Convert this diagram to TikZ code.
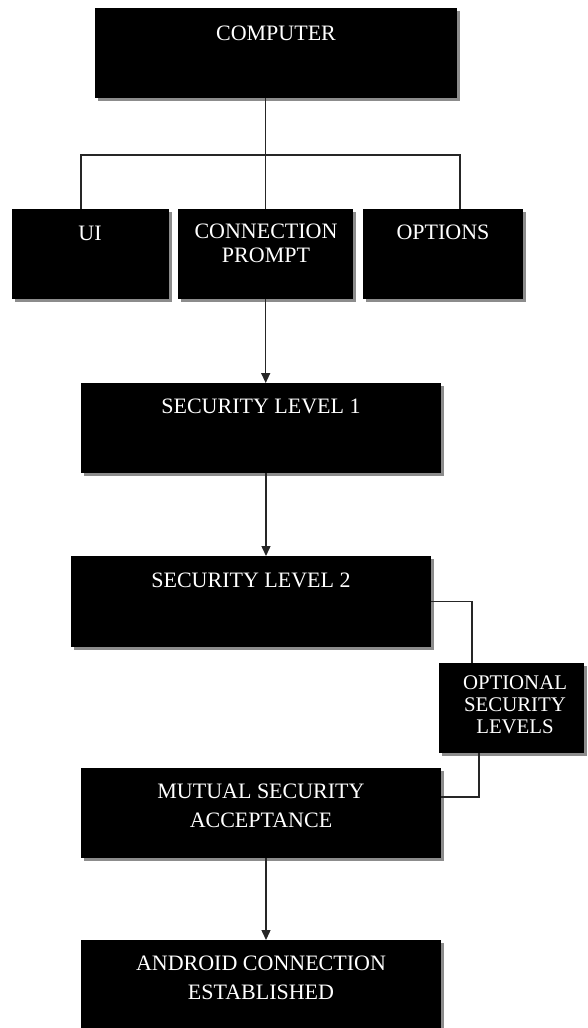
\documentclass[tikz,border=0pt]{standalone}
\usepackage{fontspec}
\setmainfont{Liberation Serif}
\usetikzlibrary{shadows,arrows.meta}
\begin{document}
\begin{tikzpicture}[x=1pt,y=-1pt,
  boxnode/.style={fill=black, inner sep=0pt, anchor=north west,
    drop shadow={shadow xshift=3pt, shadow yshift=-3pt, fill=black!45, opacity=1}},
  txt/.style={text=white, font=\fontsize{22}{24}\selectfont, align=center, inner sep=0pt},
  line/.style={draw=black!85, line width=1.4pt},
  arr/.style={line, -{Triangle[length=10pt,width=9pt]}}]
\useasboundingbox (0,0) rectangle (588,1028);
% boxes
\node[boxnode, minimum width=362pt, minimum height=90pt] (comp) at (95,8) {};
\node[boxnode, minimum width=157pt, minimum height=90pt] (ui) at (12,209) {};
\node[boxnode, minimum width=175pt, minimum height=90pt] (cp) at (178,209) {};
\node[boxnode, minimum width=160pt, minimum height=90pt] (opt) at (363,209) {};
\node[boxnode, minimum width=360pt, minimum height=90pt] (sl1) at (81,383) {};
\node[boxnode, minimum width=360pt, minimum height=91pt] (sl2) at (71,556) {};
\node[boxnode, minimum width=145pt, minimum height=90pt] (osl) at (439,663) {};
\node[boxnode, minimum width=360pt, minimum height=90pt] (mut) at (81,768) {};
\node[boxnode, minimum width=360pt, minimum height=90pt] (andr) at (81,940) {};
% texts
\node[txt] (compT) at (276,33) {COMPUTER};
\node[txt] (uiT) at (90,233) {UI};
\node[txt] (cpT) at (266,243) {CONNECTION\\PROMPT};
\node[txt] (optT) at (443,232) {OPTIONS};
\node[txt] (sl1T) at (261,406) {SECURITY LEVEL 1};
\node[txt] (sl2T) at (251,580) {SECURITY LEVEL 2};
\node[txt, font=\fontsize{20.8}{22}\selectfont] (oslT) at (515,705) {OPTIONAL\\SECURITY\\LEVELS};
\node[txt, font=\fontsize{22}{29}\selectfont] (mutT) at (261,805.5) {MUTUAL SECURITY\\ACCEPTANCE};
\node[txt, font=\fontsize{22}{29}\selectfont] (andrT) at (261,977.5) {ANDROID CONNECTION\\ESTABLISHED};
% connectors
\coordinate (bl) at (81,155);
\coordinate (br) at (460,155);
\coordinate (sp) at (266,0);
\coordinate (c1) at (472,601);
\coordinate (c2) at (479,797);
\draw[line] (comp.south -| cp.north) -- (cp.north);
\draw[line] (ui.north -| bl) -- (bl) -- (br) -- (opt.north -| br);
\draw[arr] (cp.south) -- (cp.south |- sl1.north);
\draw[arr] (sl1.south -| sp) -- (sl2.north -| sp);
\draw[line] (sl2.east) -- (sl2.east -| c1) -- (c1 |- osl.north);
\draw[line] (osl.south -| c2) -- (c2) -- (c2 -| mut.east);
\draw[arr] (mut.south -| sp) -- (andr.north -| sp);
\end{tikzpicture}
\end{document}
